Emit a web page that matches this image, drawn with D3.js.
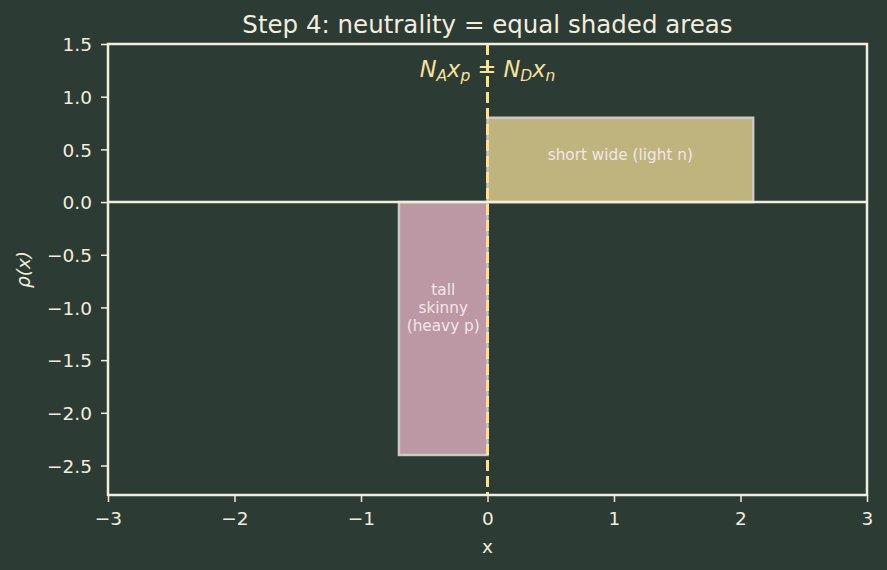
<!DOCTYPE html>
<html>
<head>
<meta charset="utf-8">
<script src="https://cdn.jsdelivr.net/npm/d3@7"></script>
<style>
  body { margin: 0; background: #2c3b34; }
  svg { display: block; font-family: "DejaVu Sans", sans-serif; }
</style>
</head>
<body>
<div id="chart"></div>
<script>
// data
const xTicks = [-3, -2, -1, 0, 1, 2, 3];
const yTicks = [1.5, 1.0, 0.5, 0.0, -0.5, -1.0, -1.5, -2.0, -2.5];
const boxNames = ["tall skinny (heavy p)", "short wide (light n)"];
const boxX0 = [-0.7, 0];
const boxX1 = [0, 2.1];
const boxY = [-2.4, 0.8];
const labelX = [-0.35, 1.05];
const labelY = [-1.0, 0.45];
const boxLabels = [["tall", "skinny", "(heavy p)"], ["short wide (light n)"]];
const boxFill = ["#bc98a4", "#bfb47e"];

const W = 887, H = 570;
const margin = { top: 44, right: 20, bottom: 75, left: 108 };
const fg = "#f1eddf";
const fs = "18.5px";

const svg = d3.select("#chart").append("svg").attr("width", W).attr("height", H);
svg.append("rect").attr("width", W).attr("height", H).attr("fill", "#2c3b34");

const x = d3.scaleLinear().domain([-3, 3]).range([margin.left, W - margin.right]);
const y = d3.scaleLinear().domain([-2.78, 1.5]).range([H - margin.bottom, margin.top]);

// boxes
const boxes = boxNames.map((n, i) => ({ name: n, x0: boxX0[i], x1: boxX1[i], h: boxY[i], lx: labelX[i], ly: labelY[i], lines: boxLabels[i], fill: boxFill[i] }));
svg.selectAll(".box").data(boxes).enter().append("rect")
  .attr("class", "box")
  .attr("x", d => x(d.x0))
  .attr("width", d => x(d.x1) - x(d.x0))
  .attr("y", d => y(Math.max(0, d.h)))
  .attr("height", d => Math.abs(y(d.h) - y(0)))
  .attr("fill", d => d.fill)
  .attr("stroke", "#c9cac4")
  .attr("stroke-width", 2.5);

boxes.forEach(d => {
  const cx = x(d.lx);
  const cy = y(d.ly);
  const t = svg.append("text").attr("text-anchor", "middle").attr("fill", "#f4e6ea").style("font-size", "15.3px");
  const n = d.lines.length;
  d.lines.forEach((l, j) => {
    t.append("tspan").attr("x", cx).attr("y", cy + (j - (n - 1) / 2) * 17.8 + 5.5).text(l);
  });
});

// zero line
svg.append("line").attr("x1", x(-3)).attr("x2", x(3)).attr("y1", y(0)).attr("y2", y(0))
  .attr("stroke", fg).attr("stroke-width", 2.5);

// dashed divider
svg.append("line").attr("x1", x(0)).attr("x2", x(0)).attr("y1", y(1.5)).attr("y2", y(-2.78))
  .attr("stroke", "#ffe08f").attr("stroke-width", 3).attr("stroke-dasharray", "11,5");

// frame
svg.append("rect").attr("x", x(-3)).attr("y", y(1.5)).attr("width", x(3) - x(-3)).attr("height", y(-2.78) - y(1.5))
  .attr("fill", "none").attr("stroke", fg).attr("stroke-width", 2.5);

// axes
const xAxis = svg.append("g").attr("transform", `translate(0,${y(-2.78)})`)
  .call(d3.axisBottom(x).tickValues(xTicks).tickFormat(d => d3.format("d")(d).replace("-", "\u2212")).tickSize(7).tickPadding(10));
const yAxis = svg.append("g").attr("transform", `translate(${x(-3)},0)`)
  .call(d3.axisLeft(y).tickValues(yTicks).tickFormat(d => d3.format(".1f")(d).replace("-", "\u2212")).tickSize(7).tickPadding(9));
[xAxis, yAxis].forEach(g => {
  g.select(".domain").remove();
  g.selectAll("line").attr("stroke", fg).attr("stroke-width", 1.5);
  g.selectAll("text").attr("fill", fg).style("font-size", fs).style("font-family", "DejaVu Sans, sans-serif");
});
yAxis.selectAll("text").attr("dy", "0.36em");

// labels
svg.append("text").attr("x", x(0)).attr("y", 33).attr("text-anchor", "middle")
  .attr("fill", fg).style("font-size", "24.5px").text("Step 4: neutrality = equal shaded areas");
svg.append("text").attr("x", x(0)).attr("y", 553).attr("text-anchor", "middle")
  .attr("fill", fg).style("font-size", fs).text("x");
svg.append("text").attr("transform", `translate(30,${(y(1.5) + y(-2.78)) / 2}) rotate(-90)`).attr("text-anchor", "middle")
  .attr("fill", fg).style("font-size", fs).style("font-style", "italic").text("ρ(x)");

// equation
const eq = svg.append("text").attr("x", x(0)).attr("y", 77).attr("text-anchor", "middle")
  .attr("fill", "#f7e29a").style("font-size", "22.5px");
const sub = "15.5px";
eq.append("tspan").style("font-style", "italic").text("N");
eq.append("tspan").style("font-style", "italic").style("font-size", sub).attr("dy", 4).text("A");
eq.append("tspan").style("font-style", "italic").attr("dy", -4).text("x");
eq.append("tspan").style("font-style", "italic").style("font-size", sub).attr("dy", 4).text("p");
eq.append("tspan").attr("dy", -4).text(" = ");
eq.append("tspan").style("font-style", "italic").text("N");
eq.append("tspan").style("font-style", "italic").style("font-size", sub).attr("dy", 4).text("D");
eq.append("tspan").style("font-style", "italic").attr("dy", -4).text("x");
eq.append("tspan").style("font-style", "italic").style("font-size", sub).attr("dy", 4).text("n");
</script>
</body>
</html>
